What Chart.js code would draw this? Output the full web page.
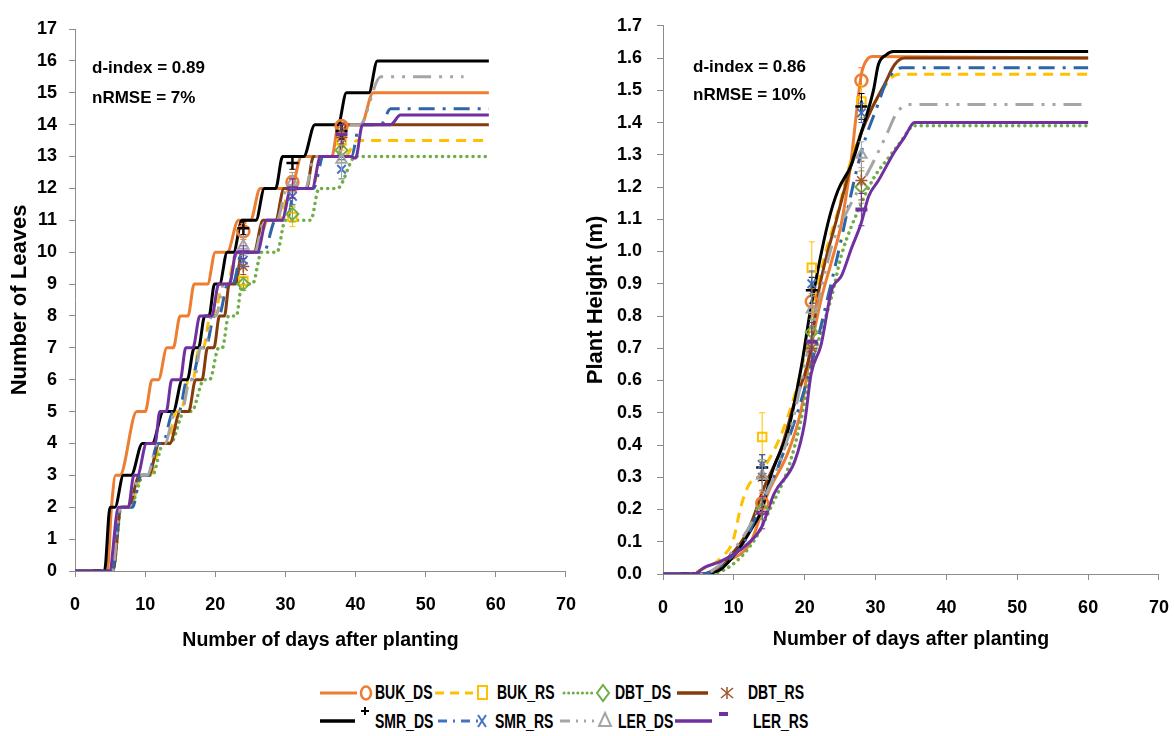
<!DOCTYPE html>
<html>
<head>
<meta charset="utf-8">
<title>Leaf number and plant height</title>
<script src="https://cdn.jsdelivr.net/npm/chart.js@4.4.1/dist/chart.umd.min.js"></script>
<style>
  html, body { margin: 0; padding: 0; background: #fff; }
  body {
    width: 1174px; height: 736px; position: relative; overflow: hidden;
    font-family: 'Liberation Sans', Arial, sans-serif; font-weight: bold; color: #000;
  }
  .panel { position: absolute; top: 0; height: 660px; }
  #leaf-panel { left: 0; width: 593px; }
  #height-panel { left: 578px; width: 608px; }
  .stat { position: absolute; font-size: 17px; line-height: 17px; white-space: nowrap; }
  #legend-marks { position: absolute; left: 0; top: 670px; }
  .lg { position: absolute; font-size: 20px; line-height: 20px; white-space: nowrap;
        transform: scaleX(0.7); transform-origin: 0 50%; }
</style>
</head>
<body>

<div class="panel" id="leaf-panel"><canvas id="leaf-canvas" width="593" height="660"></canvas></div>
<div class="panel" id="height-panel"><canvas id="height-canvas" width="608" height="660"></canvas></div>

<div class="stat" style="left:92px; top:59px;">d-index = 0.89</div>
<div class="stat" style="left:92px; top:89px;">nRMSE = 7%</div>
<div class="stat" style="left:693px; top:58px;">d-index = 0.86</div>
<div class="stat" style="left:693px; top:86px;">nRMSE = 10%</div>

<!-- shared legend for both panels -->
<svg id="legend-marks" width="1174" height="66">
  <line x1="320" y1="23" x2="357" y2="23" stroke="#ED7D31" stroke-width="3"/>
  <ellipse cx="366" cy="23" rx="5" ry="6.5" fill="none" stroke="#ED7D31" stroke-width="2.5"/>
  <line x1="435" y1="23" x2="473" y2="23" stroke="#FFC000" stroke-width="3" stroke-dasharray="9 6"/>
  <rect x="478" y="16" width="9" height="13" fill="none" stroke="#FFC000" stroke-width="2"/>
  <line x1="564" y1="23" x2="592" y2="23" stroke="#70AD47" stroke-width="3" stroke-dasharray="0.1 4.5" stroke-linecap="round"/>
  <path d="M603 15 L609 23 L603 31 L597 23 Z" fill="none" stroke="#70AD47" stroke-width="2"/>
  <line x1="677" y1="23" x2="708" y2="23" stroke="#843C0C" stroke-width="3.5"/>
  <g stroke="#A0522D" stroke-width="1.5">
    <line x1="727" y1="17" x2="727" y2="29"/>
    <line x1="721" y1="18" x2="733" y2="28"/>
    <line x1="733" y1="18" x2="721" y2="28"/>
  </g>

  <line x1="320" y1="51" x2="355" y2="51" stroke="#000" stroke-width="3.5"/>
  <g stroke="#000" stroke-width="2">
    <line x1="365" y1="37" x2="365" y2="45"/>
    <line x1="361" y1="41" x2="369" y2="41"/>
  </g>
  <line x1="438" y1="51" x2="478" y2="51" stroke="#4472C4" stroke-width="3" stroke-dasharray="9 6 2 6"/>
  <g stroke="#4472C4" stroke-width="2">
    <line x1="478" y1="45" x2="486" y2="57"/>
    <line x1="486" y1="45" x2="478" y2="57"/>
  </g>
  <line x1="560" y1="51" x2="594" y2="51" stroke="#A5A5A5" stroke-width="3" stroke-dasharray="10 6 2 6 2 6"/>
  <path d="M605 43 L611 56 L599 56 Z" fill="none" stroke="#A5A5A5" stroke-width="2"/>
  <line x1="675" y1="51" x2="712" y2="51" stroke="#7030A0" stroke-width="3.5"/>
  <line x1="719" y1="44" x2="728" y2="44" stroke="#7030A0" stroke-width="4"/>
</svg>

<div class="lg" style="left:375px; top:682px;">BUK_DS</div>
<div class="lg" style="left:497px; top:682px;">BUK_RS</div>
<div class="lg" style="left:615px; top:682px;">DBT_DS</div>
<div class="lg" style="left:748px; top:682px;">DBT_RS</div>
<div class="lg" style="left:375px; top:711px;">SMR_DS</div>
<div class="lg" style="left:495px; top:711px;">SMR_RS</div>
<div class="lg" style="left:618px; top:711px;">LER_DS</div>
<div class="lg" style="left:753px; top:711px;">LER_RS</div>

<script>
(function () {
  'use strict';

  // ---------- axis ticks ----------
  const DAY_TICKS = [0, 10, 20, 30, 40, 50, 60, 70];
  const LEAF_TICKS = [0, 1, 2, 3, 4, 5, 6, 7, 8, 9, 10, 11, 12, 13, 14, 15, 16, 17];
  const HEIGHT_TICKS = [0, 0.1, 0.2, 0.3, 0.4, 0.5, 0.6, 0.7, 0.8, 0.9, 1.0,
                        1.1, 1.2, 1.3, 1.4, 1.5, 1.6, 1.7];

  // ---------- simulated leaf number, [day, leaves] ----------
  const LEAF_BUK_DS = [[0,0],[4.6,0],[5.2,2],[5.8,3],[6.4,3],[8.8,5],[10,5],[11,6],[11.9,6],[13.1,7],[14,7],
    [15,8],[16.1,8],[17,9],[18.9,9],[20,10],[21.7,10],[23.3,11],[25,11],[26.4,12],[30.8,12],[32.3,13],
    [36.6,13],[37.6,14],[40.8,14],[42.5,15],[59,15]];
  const LEAF_BUK_RS = [[0,0],[5.3,0],[6.5,2],[7.8,2],[9.6,3],[10.7,3],[12.3,4],[13.2,4],[14.4,5],[15.1,5],
    [16.2,6],[16.8,6],[17.7,7],[18.3,7],[19.3,8],[19.9,8],[21,9],[21.7,9],[23,10],[25.8,10],[27.5,11],
    [29.2,11],[30.6,12],[33.8,12],[35.2,13],[38.5,13],[40.2,13.5],[59,13.5]];
  const LEAF_DBT_DS = [[0,0],[5.4,0],[6.6,2],[7.8,2],[9.8,3],[11,3],[12.6,4],[13.6,4],[15.6,5],[16.6,5],
    [18.4,6],[19.2,6],[20.5,7],[21,7],[21.9,8],[23,8],[23.8,9],[25.3,9],[26.6,10],[28.8,10],[30,11],
    [33.6,11],[34.8,12],[37.4,12],[40,13],[59,13]];
  const LEAF_DBT_RS = [[0,0],[5.4,0],[6.6,2],[7.6,2],[9.2,3],[10.5,3],[12,4],[13.5,4],[15,5],[16.2,5],
    [17.2,6],[18.1,6],[18.9,7],[19.8,7],[20.6,8],[21.3,8],[22,9],[22.9,9],[23.8,10],[25.5,10],[26.8,11],
    [28.6,11],[29.8,12],[33,12],[34,13],[37.5,13],[38.8,14],[59,14]];
  const LEAF_SMR_DS = [[0,0],[4.2,0],[5,2],[5.7,2],[6.9,3],[8,3],[9.6,4],[11,4],[12.6,5],[14,5],[15.3,6],
    [16,6],[17,7],[17.6,7],[18.5,8],[19.1,8],[19.9,9],[20.6,9],[21.7,10],[22.6,10],[23.8,11],[25.8,11],
    [27,12],[28.6,12],[29.6,13],[32.6,13],[34.2,14],[37.5,14],[38.7,15],[41.9,15],[43.1,16],[59,16]];
  const LEAF_SMR_RS = [[0,0],[5.3,0],[6.5,2],[8.2,2],[9.4,3],[10.4,3],[11.8,4],[12.5,4],[14,5],[14.8,5],
    [16,6],[16.6,6],[18,7],[18.6,7],[19.9,8],[20.5,8],[21.8,9],[22.5,9],[23.8,10],[26.9,10],[28.6,11],
    [30.2,11],[31.4,12],[34,12],[35.4,13],[39.4,13],[40.6,14],[43.6,14],[45,14.5],[59,14.5]];
  const LEAF_LER_DS = [[0,0],[5.3,0],[6.5,2],[7.6,2],[9.3,3],[10.3,3],[11.8,4],[12.8,4],[14.3,5],[15.2,5],
    [16.4,6],[17,6],[17.9,7],[18.5,7],[19.5,8],[20.1,8],[21.2,9],[21.9,9],[23.2,10],[25.6,10],[27,11],
    [28.8,11],[30.2,12],[32.8,12],[34.2,13],[37.4,13],[38.6,14],[40.6,14],[43.6,15.5],[55.4,15.5]];
  const LEAF_LER_RS = [[0,0],[4.9,0],[6.2,2],[7.6,2],[8.4,3],[8.9,3],[10.2,4],[11.4,4],[12.1,5],[13,5],
    [13.8,6],[15,6],[15.8,7],[16.8,7],[17.8,8],[19.5,8],[20.5,9],[22,9],[23,10],[26,10],[27.3,11],
    [29.5,11],[30.8,12],[33.8,12],[35,13],[39.3,13],[40,12.95],[41,14],[45,14],[46.4,14.3],[59,14.3]];

  // ---------- observed leaf number (mean, error) ----------
  const LEAF_OBS_DAYS = [24, 31, 38];
  const LEAF_OBS_BUK_DS = [10.65, 12.2, 13.95];
  const LEAF_OBS_BUK_RS = [9.1, 11.1, 13.5];
  const LEAF_OBS_DBT_DS = [9.0, 11.2, 13.2];
  const LEAF_OBS_DBT_RS = [9.55, 12.0, 13.6];
  const LEAF_OBS_SMR_DS = [10.75, 12.8, 13.8];
  const LEAF_OBS_SMR_RS = [9.75, 11.75, 12.6];
  const LEAF_OBS_LER_DS = [10.2, 12.2, 12.9];
  const LEAF_OBS_LER_RS = [10.0, 12.0, 13.7];
  const LEAF_ERR_BUK_DS = [0.25, 0.3, 0.2];
  const LEAF_ERR_BUK_RS = [0.2, 0.3, 0.3];
  const LEAF_ERR_DBT_DS = [0.2, 0.25, 0.3];
  const LEAF_ERR_DBT_RS = [0.25, 0.3, 0.3];
  const LEAF_ERR_SMR_DS = [0.2, 0.2, 0.25];
  const LEAF_ERR_SMR_RS = [0.2, 0.25, 0.3];
  const LEAF_ERR_LER_DS = [0.3, 0.3, 0.6];
  const LEAF_ERR_LER_RS = [0.2, 0.3, 0.3];

  // ---------- simulated plant height (m), [day, height] ----------
  const HT_BUK_DS = [[0,0],[6,0],[9.2,0.04],[12.4,0.1],[14.8,0.25],[17.7,0.38],[19.5,0.51],[20.9,0.7],
    [22.3,0.85],[23.8,0.97],[25.2,1.09],[26.6,1.29],[27.3,1.43],[28,1.55],[29,1.6],[29.6,1.605],[60,1.6]];
  const HT_BUK_RS = [[0,0],[3.5,0],[6,0.02],[8.2,0.05],[9.9,0.105],[11,0.21],[12.2,0.28],[13.4,0.3],
    [14.3,0.33],[17,0.45],[19.7,0.65],[21.4,0.85],[23,1.0],[25,1.15],[26.1,1.25],[28.5,1.4],[30.4,1.48],
    [32.3,1.54],[33.3,1.55],[60,1.55]];
  const HT_DBT_DS = [[0,0],[6,0],[9.2,0.02],[12.9,0.105],[15.3,0.21],[17.7,0.33],[19.5,0.48],[20.9,0.64],
    [22.3,0.75],[23.8,0.86],[25.2,0.99],[28,1.15],[29.8,1.23],[31.8,1.29],[33.7,1.345],[35,1.385],
    [35.5,1.39],[60,1.39]];
  const HT_DBT_RS = [[0,0],[5.5,0],[9.2,0.05],[12,0.135],[14.3,0.27],[16.7,0.39],[18.6,0.535],[20.5,0.66],
    [22,0.88],[24.5,1.1],[27.6,1.345],[29.4,1.44],[31.3,1.52],[32.7,1.58],[34.1,1.6],[60,1.6]];
  const HT_SMR_DS = [[0,0],[5,0],[7.8,0.01],[10.6,0.074],[12.5,0.14],[13.9,0.197],[15.3,0.31],[17.7,0.45],
    [19.5,0.64],[20.9,0.83],[23.3,1.09],[24.7,1.19],[26.6,1.27],[28,1.37],[29.7,1.5],[30.4,1.58],
    [31.5,1.61],[32.5,1.62],[60,1.62]];
  const HT_SMR_RS = [[0,0],[5.5,0],[9,0.04],[11.5,0.1],[13.9,0.22],[16.2,0.33],[20,0.575],[24.2,0.945],
    [28,1.31],[30.4,1.46],[31.4,1.52],[32.7,1.56],[33.7,1.57],[60,1.57]];
  const HT_LER_DS = [[0,0],[5.5,0],[9,0.05],[13.5,0.2],[18,0.45],[20.5,0.7],[22.5,0.9],[24,1.03],
    [26.1,1.13],[29.5,1.27],[31.5,1.36],[33,1.43],[34.6,1.456],[59.4,1.456]];
  const HT_LER_RS = [[0,0],[4.4,0],[5.8,0.02],[8.2,0.04],[11.5,0.085],[13.9,0.145],[15.7,0.25],[18.6,0.35],
    [20,0.47],[20.9,0.62],[22.3,0.71],[23.8,0.88],[25.2,0.925],[26.6,1.01],[28,1.09],[29,1.17],
    [30.4,1.22],[32.7,1.31],[34.1,1.355],[35.5,1.4],[60,1.4]];

  // ---------- observed plant height (mean, error) ----------
  const HT_OBS_DAYS = [14, 21, 28];
  const HT_OBS_BUK_DS = [0.22, 0.845, 1.53];
  const HT_OBS_BUK_RS = [0.425, 0.95, 1.465];
  const HT_OBS_DBT_DS = [0.2, 0.75, 1.2];
  const HT_OBS_DBT_RS = [0.3, 0.7, 1.22];
  const HT_OBS_SMR_DS = [0.33, 0.88, 1.45];
  const HT_OBS_SMR_RS = [0.34, 0.9, 1.43];
  const HT_OBS_LER_DS = [0.305, 0.82, 1.3];
  const HT_OBS_LER_RS = [0.19, 0.72, 1.13];
  const HT_ERR_BUK_DS = [0.03, 0.04, 0.04];
  const HT_ERR_BUK_RS = [0.075, 0.08, 0.05];
  const HT_ERR_DBT_DS = [0.03, 0.04, 0.05];
  const HT_ERR_DBT_RS = [0.04, 0.05, 0.06];
  const HT_ERR_SMR_DS = [0.04, 0.04, 0.04];
  const HT_ERR_SMR_RS = [0.03, 0.04, 0.03];
  const HT_ERR_LER_DS = [0.05, 0.05, 0.04];
  const HT_ERR_LER_RS = [0.05, 0.06, 0.05];

  // line + marker look for each treatment, same order as the arrays above
  const STYLES = [
    { line: '#ED7D31', mark: '#ED7D31', dash: [],               cap: 'butt',  width: 3,   point: 'circle',   pw: 2.5 },
    { line: '#FFC000', mark: '#FFC000', dash: [10, 7],          cap: 'butt',  width: 3,   point: 'rect',     pw: 2 },
    { line: '#70AD47', mark: '#70AD47', dash: [0.1, 6],         cap: 'round', width: 3.5, point: 'rectRot',  pw: 2 },
    { line: '#843C0C', mark: '#A0522D', dash: [],               cap: 'butt',  width: 3,   point: 'star',     pw: 1.5 },
    { line: '#000000', mark: '#000000', dash: [],               cap: 'butt',  width: 3,   point: 'cross',    pw: 2.5 },
    { line: '#2E64A8', mark: '#4472C4', dash: [16, 8, 3, 8],    cap: 'butt',  width: 3,   point: 'crossRot', pw: 2 },
    { line: '#A5A5A5', mark: '#A5A5A5', dash: [18, 8, 3, 8, 3, 8], cap: 'butt', width: 3, point: 'triangle', pw: 2 },
    { line: '#7030A0', mark: '#7030A0', dash: [],               cap: 'butt',  width: 3,   point: 'line',     pw: 4 }
  ];

  const AXIS_GREY = '#8C8C8C';
  const FAMILY = "'Liberation Sans', Arial, sans-serif";

  // vertical error bars for observation datasets
  const errorBars = {
    id: 'errorBars',
    afterDatasetsDraw(chart) {
      const ctx = chart.ctx;
      const xs = chart.scales.x, ys = chart.scales.y;
      chart.data.datasets.forEach((ds, i) => {
        if (!ds.errors || !chart.isDatasetVisible(i)) return;
        ctx.save();
        ctx.strokeStyle = ds.pointBorderColor;
        ctx.lineWidth = 1;
        ds.data.forEach((p, j) => {
          const x = xs.getPixelForValue(p.x);
          const lo = ys.getPixelForValue(p.y - ds.errors[j]);
          const hi = ys.getPixelForValue(p.y + ds.errors[j]);
          ctx.beginPath();
          ctx.moveTo(x, lo); ctx.lineTo(x, hi);
          ctx.moveTo(x - 3, lo); ctx.lineTo(x + 3, lo);
          ctx.moveTo(x - 3, hi); ctx.lineTo(x + 3, hi);
          ctx.stroke();
        });
        ctx.restore();
      });
    }
  };

  function buildDatasets(lines, obsDays, obs, errs) {
    const sets = [];
    lines.forEach((pairs, i) => {
      const st = STYLES[i];
      sets.push({
        data: pairs.map(p => ({ x: p[0], y: p[1] })),
        borderColor: st.line,
        borderWidth: st.width,
        borderDash: st.dash,
        borderCapStyle: st.cap,
        cubicInterpolationMode: 'monotone',
        pointRadius: 0,
        fill: false,
        order: 20 - i
      });
    });
    obs.forEach((vals, i) => {
      const st = STYLES[i];
      sets.push({
        data: obsDays.map((d, j) => ({ x: d, y: vals[j] })),
        showLine: false,
        pointStyle: st.point,
        pointRadius: 6,
        pointBorderColor: st.mark,
        pointBackgroundColor: 'rgba(0,0,0,0)',
        pointBorderWidth: st.pw,
        errors: errs[i],
        order: 8 - i
      });
    });
    return sets;
  }

  function axisTicks(list) {
    return scale => { scale.ticks = list.map(v => ({ value: v })); };
  }

  function makeChart(canvasId, o) {
    return new Chart(document.getElementById(canvasId), {
      type: 'line',
      data: { datasets: o.datasets },
      options: {
        responsive: false,
        animation: false,
        layout: { padding: { left: 0, top: o.top, right: 0, bottom: 0 } },
        plugins: { legend: { display: false }, tooltip: { enabled: false } },
        scales: {
          x: {
            type: 'linear', min: 0, max: 70,
            afterBuildTicks: axisTicks(DAY_TICKS),
            afterFit: s => { s.height = o.xHeight; },
            grid: { drawOnChartArea: false, color: AXIS_GREY, tickLength: 6 },
            border: { color: AXIS_GREY, width: 1 },
            ticks: { color: '#000', padding: o.xTickPad, font: { family: FAMILY, size: 18, weight: 'bold' } },
            title: {
              display: true, text: 'Number of days after planting', color: '#000',
              font: { family: FAMILY, size: 19.5, weight: 'bold' },
              padding: { top: 0, bottom: o.xTitlePad }
            }
          },
          y: {
            type: 'linear', min: 0, max: o.yMax,
            afterBuildTicks: axisTicks(o.yTicks),
            afterFit: s => { s.width = o.yWidth; },
            grid: { drawOnChartArea: false, color: AXIS_GREY, tickLength: 6 },
            border: { color: AXIS_GREY, width: 1 },
            ticks: {
              color: '#000', padding: o.yTickPad, callback: o.yFormat,
              font: { family: FAMILY, size: 18, weight: 'bold' }
            },
            title: {
              display: true, text: o.yTitle, color: '#000',
              font: { family: FAMILY, size: 22, weight: 'bold' },
              padding: { top: o.yTitlePad, bottom: 0 }
            }
          }
        }
      },
      plugins: [errorBars]
    });
  }

  makeChart('leaf-canvas', {
    datasets: buildDatasets(
      [LEAF_BUK_DS, LEAF_BUK_RS, LEAF_DBT_DS, LEAF_DBT_RS, LEAF_SMR_DS, LEAF_SMR_RS, LEAF_LER_DS, LEAF_LER_RS],
      LEAF_OBS_DAYS,
      [LEAF_OBS_BUK_DS, LEAF_OBS_BUK_RS, LEAF_OBS_DBT_DS, LEAF_OBS_DBT_RS,
       LEAF_OBS_SMR_DS, LEAF_OBS_SMR_RS, LEAF_OBS_LER_DS, LEAF_OBS_LER_RS],
      [LEAF_ERR_BUK_DS, LEAF_ERR_BUK_RS, LEAF_ERR_DBT_DS, LEAF_ERR_DBT_RS,
       LEAF_ERR_SMR_DS, LEAF_ERR_SMR_RS, LEAF_ERR_LER_DS, LEAF_ERR_LER_RS]),
    top: 29, xHeight: 89, yWidth: 75,
    xTickPad: 17, xTitlePad: 8, yTickPad: 12, yTitlePad: 7,
    yMax: 17, yTicks: LEAF_TICKS, yTitle: 'Number of Leaves', yFormat: v => v
  });

  makeChart('height-canvas', {
    datasets: buildDatasets(
      [HT_BUK_DS, HT_BUK_RS, HT_DBT_DS, HT_DBT_RS, HT_SMR_DS, HT_SMR_RS, HT_LER_DS, HT_LER_RS],
      HT_OBS_DAYS,
      [HT_OBS_BUK_DS, HT_OBS_BUK_RS, HT_OBS_DBT_DS, HT_OBS_DBT_RS,
       HT_OBS_SMR_DS, HT_OBS_SMR_RS, HT_OBS_LER_DS, HT_OBS_LER_RS],
      [HT_ERR_BUK_DS, HT_ERR_BUK_RS, HT_ERR_DBT_DS, HT_ERR_DBT_RS,
       HT_ERR_SMR_DS, HT_ERR_SMR_RS, HT_ERR_LER_DS, HT_ERR_LER_RS]),
    top: 21, xHeight: 86, yWidth: 85,
    xTickPad: 17, xTitlePad: 9, yTickPad: 15, yTitlePad: 5,
    yMax: 1.7, yTicks: HEIGHT_TICKS, yTitle: 'Plant Height (m)', yFormat: v => v.toFixed(1)
  });
})();
</script>
</body>
</html>
